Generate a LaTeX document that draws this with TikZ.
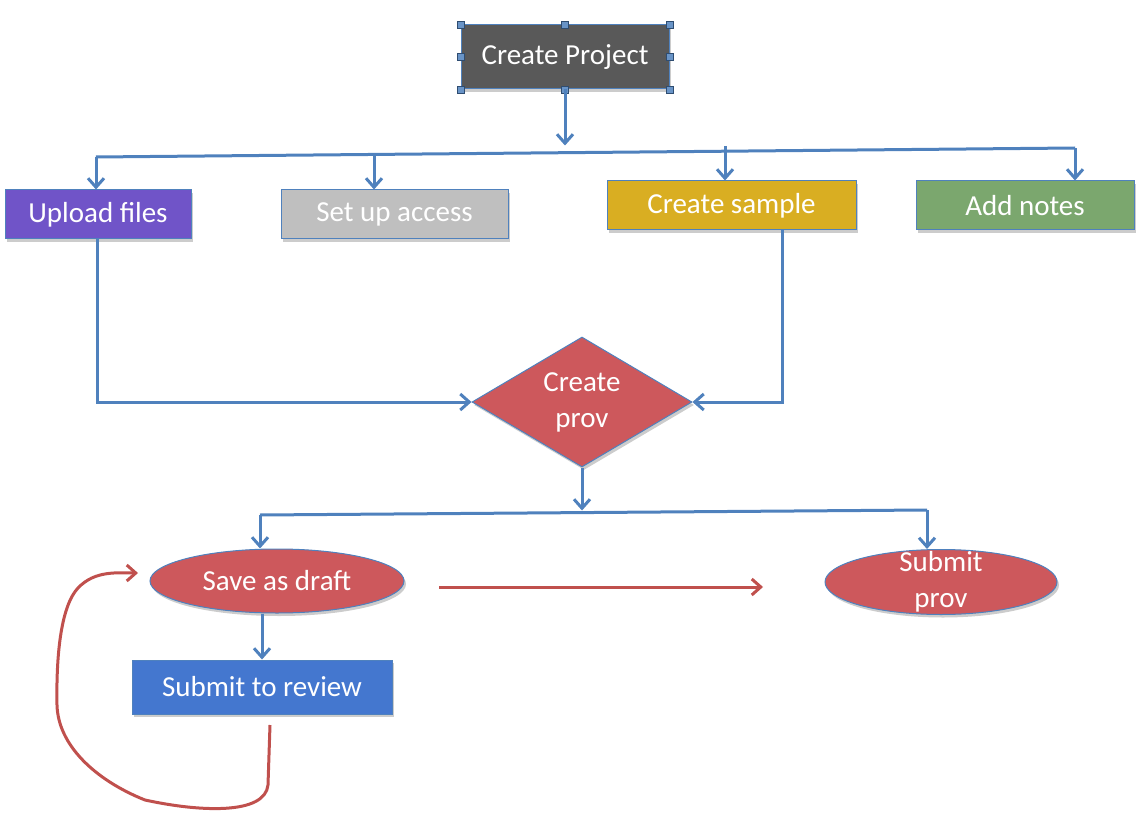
\documentclass[tikz,border=0pt]{standalone}
\usepackage{fontspec}
\setmainfont{Carlito}
\usetikzlibrary{shapes.geometric,arrows.meta,shadows}

\definecolor{lineblue}{HTML}{4F81BD}
\definecolor{projgray}{HTML}{595959}
\definecolor{uploadpurple}{HTML}{7054C8}
\definecolor{accessgray}{HTML}{BFBFBF}
\definecolor{sampleyellow}{HTML}{D9AE22}
\definecolor{notesgreen}{HTML}{7BA76E}
\definecolor{provred}{HTML}{CD585C}
\definecolor{reviewblue}{HTML}{4477CF}
\definecolor{loopred}{HTML}{C0504D}

\tikzset{
  shape base/.style={draw=lineblue, line width=1pt, text=white, inner sep=0pt,
    font=\fontsize{29}{36}\selectfont, align=center,
    drop shadow={shadow xshift=2pt, shadow yshift=-3pt, fill=black!40}},
  box/.style={shape base, rectangle},
  oval/.style={shape base, ellipse},
  link/.style={draw=lineblue, line width=3pt},
  redlink/.style={draw=loopred, line width=3pt},
  handle/.style={rectangle, draw=lineblue!60!black, fill=lineblue!85, line width=0.8pt,
    minimum size=7pt, inner sep=0pt},
}

\begin{document}
\begin{tikzpicture}[x=1pt, y=-1pt, >={Straight Barb[length=9pt, width=16pt, line width=3pt]}]
    \useasboundingbox (0,0) rectangle (1145,826);

    % top row
    \node[box, fill=projgray, minimum width=208pt, minimum height=64pt] (proj) at (565,57) {Create Project};
    \foreach \a [count=\i] in {north west, north, north east, east, south east, south, south west, west}
        \node[handle] (h\i) at (proj.\a) {};

    \node[box, fill=uploadpurple, minimum width=186pt, minimum height=49pt] (upload) at (98,214.5) {Upload files};
    \node[box, fill=accessgray, minimum width=227pt, minimum height=49pt] (access) at (394.5,214.5) {Set up access};
    \node[box, fill=sampleyellow, minimum width=249pt, minimum height=49pt] (sample) at (731.5,205.5) {Create sample};
    \node[box, fill=notesgreen, minimum width=218pt, minimum height=49pt] (notes) at (1025,205.5) {Add notes};

    % middle
    \node[shape base, diamond, fill=provred, aspect=1.69, minimum width=220pt, minimum height=130pt] (prov) at (582,402) {Create\\prov};

    % bottom row
    \node[oval, fill=provred, minimum width=254pt, minimum height=64pt] (draft) at (277,581) {Save as draft};
    \node[oval, fill=provred, inner ysep=-10pt, minimum width=232pt, minimum height=65pt] (submit) at (941,582) {Submit\\prov};
    \node[box, fill=reviewblue, minimum width=260pt, minimum height=54pt] (review) at (262,687) {Submit to review};

    % first bus
    \coordinate (busTL) at (96,157);
    \coordinate (busTR) at (1075,148);
    \coordinate (busTa) at (374,154.5);
    \coordinate (busTb) at (725,146);
    \draw[link] (busTL) -- (busTR);
    \draw[link,->] (proj.south) -- ++(0,56);
    \draw[link,->] (busTL) -- (busTL |- upload.north);
    \draw[link,->] (busTa) -- (busTa |- access.north);
    \draw[link,->] (busTb) -- (busTb |- sample.north);
    \draw[link,->] (busTR) -- (busTR |- notes.north);

    % into the diamond
    \draw[link,->] ([xshift=-1pt]upload.south) |- (prov.west);
    \draw[link,->] ([xshift=50.5pt]sample.south) |- (prov.east);

    % second bus
    \coordinate (busBL) at (260,515);
    \coordinate (busBR) at (927,510);
    \draw[link] (busBL) -- (busBR);
    \draw[link,->] (prov.south) -- ++(0,43);
    \draw[link,->] (busBL) -- (busBL |- draft.north);
    \draw[link,->] (busBR) -- (busBR |- submit.north);
    \draw[link,->] (review.north |- draft.south) -- (review.north);

    % red arrows
    \coordinate (redA) at (439,587);
    \coordinate (redB) at (763,587);
    \draw[redlink,->] (redA) -- (redB);

    \coordinate (loopA) at (270,725);
    \coordinate (loopB) at (138,573);
    \draw[redlink,->] (loopA) -- (268,785)
        .. controls (265,815) and (200,812) .. (145,800)
        .. controls (95,780) and (58,745) .. (57,705)
        .. controls (56,650) and (62,605) .. (78,588)
        .. controls (95,570) and (118,573) .. (loopB);
\end{tikzpicture}
\end{document}
